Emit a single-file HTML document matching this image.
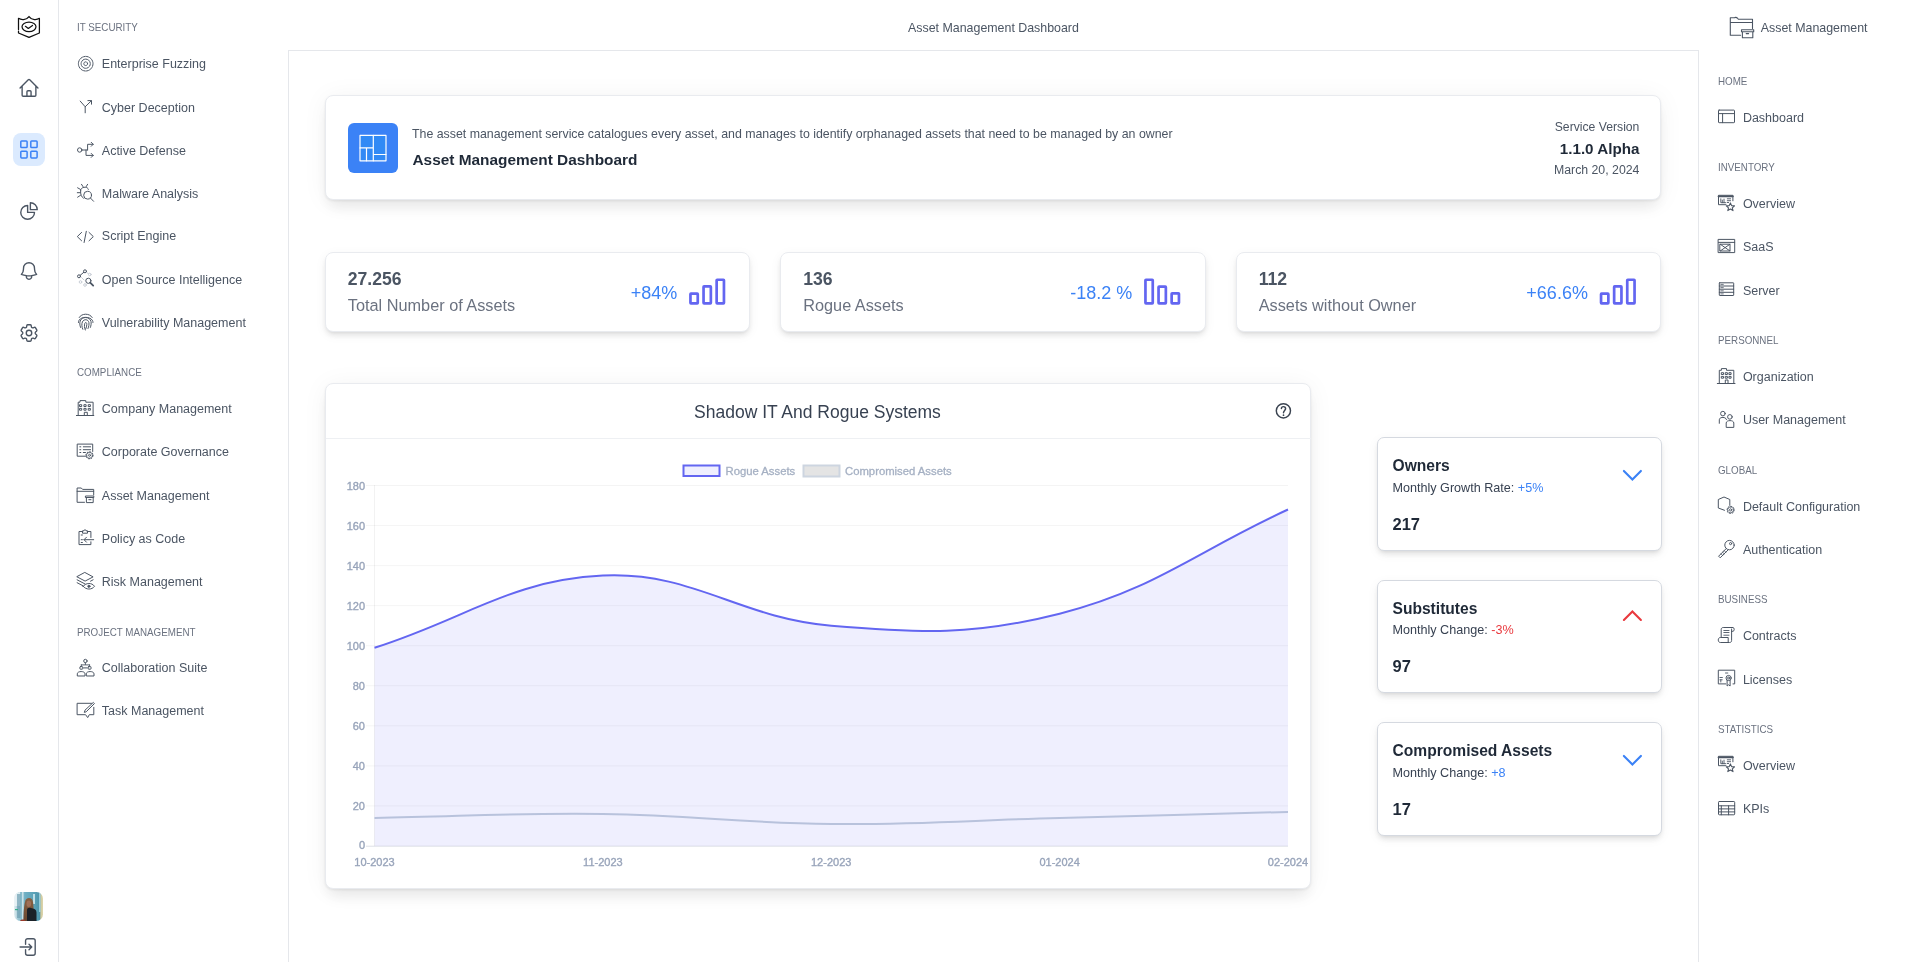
<!DOCTYPE html>
<html><head><meta charset="utf-8"><title>Asset Management Dashboard</title>
<style>
html,body{margin:0;padding:0;background:#fff;}
body{width:1920px;height:962px;overflow:hidden;position:relative;font-family:"Liberation Sans", sans-serif;}
#root{position:absolute;left:0;top:0;width:1920px;height:962px;will-change:transform;}
.t{position:absolute;line-height:1;white-space:nowrap;}
.box{position:absolute;}
.ic{position:absolute;overflow:visible;}
.card{position:absolute;box-sizing:border-box;background:#fff;border:1px solid #e9ebef;border-radius:8px;box-shadow:0 4px 6px -1px rgba(0,0,0,0.09), 0 2px 4px -2px rgba(0,0,0,0.09), 0 3px 12px rgba(0,0,0,0.05);}
.cardx{box-shadow:0 1px 3px rgba(0,0,0,0.08), 0 10px 15px -3px rgba(0,0,0,0.08), 0 2px 26px rgba(0,0,0,0.05);}
.card2{position:absolute;box-sizing:border-box;background:#fff;border:1px solid #d5d9e0;border-radius:7px;box-shadow:0 4px 6px -1px rgba(0,0,0,0.09), 0 2px 4px -2px rgba(0,0,0,0.09), 0 3px 12px rgba(0,0,0,0.05);}
</style></head>
<body>
<div id="root">
<div class="box" style="left:0;top:0;width:58px;height:962px;border-right:1px solid #e5e7eb"></div>
<svg class="ic" style="left:14px;top:12px" width="30" height="30" viewBox="0 0 30 30" fill="none" stroke="#111" stroke-width="1.25" stroke-linecap="round" stroke-linejoin="round"><path d="M4.5,17.6 V6.3 C7,8 12,8.5 15,4.5 C18,8.5 23,8 25.4,6.3 V21 L15,25.4 L4.5,21 V19.2"/><ellipse cx="15" cy="14.8" rx="7" ry="4.8"/><path d="M11.4,14.3 L14.3,16.4 L18.5,13.4"/></svg>
<svg class="ic" style="left:18px;top:77px" width="22" height="22" viewBox="0 0 24 24" fill="none" stroke="#4b5563" stroke-width="1.5" stroke-linecap="round" stroke-linejoin="round"><path d="m2.25 12 8.954-8.955c.44-.439 1.152-.439 1.591 0L21.75 12M4.5 9.75v10.125c0 .621.504 1.125 1.125 1.125H9.75v-4.875c0-.621.504-1.125 1.125-1.125h2.25c.621 0 1.125.504 1.125 1.125V21h4.125c.621 0 1.125-.504 1.125-1.125V9.75M8.25 21h8.25"/></svg>
<div class="box" style="left:13px;top:133px;width:32px;height:33px;border-radius:8px;background:#dbeafe"></div>
<svg class="ic" style="left:13px;top:133px" width="32" height="33" viewBox="0 0 32 33" fill="none" stroke="#3b82f6" stroke-width="1.5" stroke-linecap="round" stroke-linejoin="round"><rect x="7.8" y="7.9" width="6.3" height="6.7" rx="0.9"/><rect x="17.8" y="7.9" width="6.3" height="6.7" rx="0.9"/><rect x="7.8" y="18.2" width="6.3" height="6.7" rx="0.9"/><rect x="17.8" y="18.2" width="6.3" height="6.7" rx="0.9"/></svg>
<svg class="ic" style="left:18px;top:200px" width="22" height="22" viewBox="0 0 24 24" fill="none" stroke="#4b5563" stroke-width="1.5" stroke-linecap="round" stroke-linejoin="round"><path d="M10.5 6a7.5 7.5 0 1 0 7.5 7.5h-7.5V6Z"/><path d="M13.5 10.5H21A7.5 7.5 0 0 0 13.5 3v7.5Z"/></svg>
<svg class="ic" style="left:18px;top:260.3px" width="22" height="22" viewBox="0 0 24 24" fill="none" stroke="#4b5563" stroke-width="1.5" stroke-linecap="round" stroke-linejoin="round"><path d="M14.857 17.082a23.848 23.848 0 0 0 5.454-1.31A8.967 8.967 0 0 1 18 9.75V9A6 6 0 0 0 6 9v.75a8.967 8.967 0 0 1-2.312 6.022c1.733.64 3.56 1.085 5.455 1.31m5.714 0a24.255 24.255 0 0 1-5.714 0m5.714 0a3 3 0 1 1-5.714 0"/></svg>
<svg class="ic" style="left:18px;top:321.5px" width="22" height="22" viewBox="0 0 24 24" fill="none" stroke="#4b5563" stroke-width="1.5" stroke-linecap="round" stroke-linejoin="round"><path d="M9.594 3.94c.09-.542.56-.94 1.11-.94h2.593c.55 0 1.02.398 1.11.94l.213 1.281c.063.374.313.686.645.87.074.04.147.083.22.127.325.196.72.257 1.075.124l1.217-.456a1.125 1.125 0 0 1 1.37.49l1.296 2.247a1.125 1.125 0 0 1-.26 1.431l-1.003.827c-.293.241-.438.613-.43.992a7.723 7.723 0 0 1 0 .255c-.008.378.137.75.43.991l1.004.827c.424.35.534.955.26 1.43l-1.298 2.247a1.125 1.125 0 0 1-1.369.491l-1.217-.456c-.355-.133-.75-.072-1.076.124a6.47 6.47 0 0 1-.22.128c-.331.183-.581.495-.644.869l-.213 1.281c-.09.543-.56.94-1.11.94h-2.594c-.55 0-1.019-.398-1.11-.94l-.213-1.281c-.062-.374-.312-.686-.644-.87a6.52 6.52 0 0 1-.22-.127c-.325-.196-.72-.257-1.076-.124l-1.217.456a1.125 1.125 0 0 1-1.369-.49l-1.297-2.247a1.125 1.125 0 0 1 .26-1.431l1.004-.827c.292-.24.437-.613.43-.991a6.932 6.932 0 0 1 0-.255c.007-.38-.138-.751-.43-.992l-1.004-.827a1.125 1.125 0 0 1-.26-1.43l1.297-2.247a1.125 1.125 0 0 1 1.37-.491l1.216.456c.356.133.751.072 1.076-.124.072-.044.146-.086.22-.128.332-.183.582-.495.644-.869l.214-1.28Z"/><path d="M15 12a3 3 0 1 1-6 0 3 3 0 0 1 6 0Z"/></svg>
<svg class="ic" style="left:14px;top:892px" width="29" height="29" viewBox="0 0 29 29">
<defs><clipPath id="av"><rect x="0" y="0" width="29" height="29" rx="6.5"/></clipPath>
<linearGradient id="avbg" x1="0" y1="0" x2="1" y2="0"><stop offset="0" stop-color="#e6f0f3"/><stop offset="0.15" stop-color="#9cc6d3"/><stop offset="0.4" stop-color="#6eaec2"/><stop offset="0.7" stop-color="#5aa2b8"/><stop offset="0.88" stop-color="#4c93aa"/><stop offset="0.93" stop-color="#cfc9a0"/><stop offset="1" stop-color="#ddd6ac"/></linearGradient>
<linearGradient id="avhair" x1="0" y1="0" x2="0" y2="1"><stop offset="0" stop-color="#8a6244"/><stop offset="1" stop-color="#6a4830"/></linearGradient></defs>
<g clip-path="url(#av)">
<rect width="29" height="29" fill="url(#avbg)"/>
<rect x="0" y="0" width="6" height="14" fill="#eef5f7" opacity="0.8"/>
<rect x="3" y="2" width="3.5" height="24" fill="#6f9fb2" opacity="0.7"/>
<rect x="8" y="0" width="1.6" height="29" fill="#e8f3f6" opacity="0.7"/>
<rect x="19" y="2" width="2" height="10" fill="#d7eef3" opacity="0.8"/>
<rect x="25" y="0" width="1.5" height="20" fill="#a9dbe6" opacity="0.8"/>
<rect x="1" y="17" width="3" height="1.2" fill="#37b08a"/>
<path d="M9.5,29 C9.5,20 10,14 11,10 C11.5,7 13,6 15,6 C17.5,6 18.5,7.5 19,10 C19.6,14 19.8,20 20,29 Z" fill="url(#avhair)"/>
<ellipse cx="14.8" cy="11.8" rx="2.3" ry="3.2" fill="#a07058"/>
<path d="M13,29 V18 C13,16 15,15.5 17,16 L20.5,17 C22,17.8 22.5,19 22.5,21 V29 Z" fill="#1b2128"/>
<path d="M6,29 C7,27.5 9,27.3 11,28 V29 Z" fill="#9a3a2a"/>
</g></svg>
<svg class="ic" style="left:18px;top:936px" width="22" height="22" viewBox="0 0 24 24" fill="none" stroke="#4b5563" stroke-width="1.5" stroke-linecap="round" stroke-linejoin="round"><path d="M8.25 9V5.25A2.25 2.25 0 0 1 10.5 3h6a2.25 2.25 0 0 1 2.25 2.25v13.5A2.25 2.25 0 0 1 16.5 21h-6a2.25 2.25 0 0 1-2.25-2.25V15M12 9l3 3m0 0-3 3m3-3H2.25"/></svg>
<div class="t" style="top:22.25px;font-size:11.4px;color:#6b7280;left:76.90px;transform:scaleX(0.86);transform-origin:0 0;">IT SECURITY</div>
<div class="t" style="top:57.72px;font-size:12.5px;color:#4b5563;left:101.80px;">Enterprise Fuzzing</div>
<div class="t" style="top:101.72px;font-size:12.5px;color:#4b5563;left:101.80px;">Cyber Deception</div>
<div class="t" style="top:144.62px;font-size:12.5px;color:#4b5563;left:101.80px;">Active Defense</div>
<div class="t" style="top:187.72px;font-size:12.5px;color:#4b5563;left:101.80px;">Malware Analysis</div>
<div class="t" style="top:230.32px;font-size:12.5px;color:#4b5563;left:101.80px;">Script Engine</div>
<div class="t" style="top:273.82px;font-size:12.5px;color:#4b5563;left:101.80px;">Open Source Intelligence</div>
<div class="t" style="top:316.52px;font-size:12.5px;color:#4b5563;left:101.80px;">Vulnerability Management</div>
<div class="t" style="top:367.15px;font-size:11.4px;color:#6b7280;left:76.90px;transform:scaleX(0.86);transform-origin:0 0;">COMPLIANCE</div>
<div class="t" style="top:402.72px;font-size:12.5px;color:#4b5563;left:101.80px;">Company Management</div>
<div class="t" style="top:445.82px;font-size:12.5px;color:#4b5563;left:101.80px;">Corporate Governance</div>
<div class="t" style="top:489.72px;font-size:12.5px;color:#4b5563;left:101.80px;">Asset Management</div>
<div class="t" style="top:532.62px;font-size:12.5px;color:#4b5563;left:101.80px;">Policy as Code</div>
<div class="t" style="top:575.82px;font-size:12.5px;color:#4b5563;left:101.80px;">Risk Management</div>
<div class="t" style="top:626.55px;font-size:11.4px;color:#6b7280;left:76.90px;transform:scaleX(0.86);transform-origin:0 0;">PROJECT MANAGEMENT</div>
<div class="t" style="top:661.92px;font-size:12.5px;color:#4b5563;left:101.80px;">Collaboration Suite</div>
<div class="t" style="top:705.42px;font-size:12.5px;color:#4b5563;left:101.80px;">Task Management</div>
<div class="t" style="top:22.10px;font-size:12.4px;color:#4b5563;left:593.50px;width:800px;text-align:center;">Asset Management Dashboard</div>
<div class="t" style="top:22.10px;font-size:12.4px;color:#4b5563;left:1760.80px;">Asset Management</div>
<div class="box" style="left:288px;top:50px;width:1411px;height:1000px;border:1px solid #e5e7eb;box-sizing:border-box"></div>
<div class="t" style="top:76.35px;font-size:11.4px;color:#6b7280;left:1717.50px;transform:scaleX(0.86);transform-origin:0 0;">HOME</div>
<div class="t" style="top:111.82px;font-size:12.5px;color:#4b5563;left:1742.90px;">Dashboard</div>
<div class="t" style="top:161.95px;font-size:11.4px;color:#6b7280;left:1717.50px;transform:scaleX(0.86);transform-origin:0 0;">INVENTORY</div>
<div class="t" style="top:198.02px;font-size:12.5px;color:#4b5563;left:1742.90px;">Overview</div>
<div class="t" style="top:240.82px;font-size:12.5px;color:#4b5563;left:1742.90px;">SaaS</div>
<div class="t" style="top:285.12px;font-size:12.5px;color:#4b5563;left:1742.90px;">Server</div>
<div class="t" style="top:335.15px;font-size:11.4px;color:#6b7280;left:1717.50px;transform:scaleX(0.86);transform-origin:0 0;">PERSONNEL</div>
<div class="t" style="top:370.62px;font-size:12.5px;color:#4b5563;left:1742.90px;">Organization</div>
<div class="t" style="top:413.72px;font-size:12.5px;color:#4b5563;left:1742.90px;">User Management</div>
<div class="t" style="top:464.85px;font-size:11.4px;color:#6b7280;left:1717.50px;transform:scaleX(0.86);transform-origin:0 0;">GLOBAL</div>
<div class="t" style="top:500.82px;font-size:12.5px;color:#4b5563;left:1742.90px;">Default Configuration</div>
<div class="t" style="top:544.12px;font-size:12.5px;color:#4b5563;left:1742.90px;">Authentication</div>
<div class="t" style="top:594.15px;font-size:11.4px;color:#6b7280;left:1717.50px;transform:scaleX(0.86);transform-origin:0 0;">BUSINESS</div>
<div class="t" style="top:629.82px;font-size:12.5px;color:#4b5563;left:1742.90px;">Contracts</div>
<div class="t" style="top:673.92px;font-size:12.5px;color:#4b5563;left:1742.90px;">Licenses</div>
<div class="t" style="top:723.95px;font-size:11.4px;color:#6b7280;left:1717.50px;transform:scaleX(0.86);transform-origin:0 0;">STATISTICS</div>
<div class="t" style="top:760.22px;font-size:12.5px;color:#4b5563;left:1742.90px;">Overview</div>
<div class="t" style="top:802.62px;font-size:12.5px;color:#4b5563;left:1742.90px;">KPIs</div>
<div class="card cardx" style="left:325px;top:94.9px;width:1336.3px;height:104.9px"></div>
<div class="box" style="left:348px;top:123px;width:50px;height:50px;border-radius:6px;background:#3b82f6"></div>
<svg class="ic" style="left:348px;top:123px" width="50" height="50" viewBox="0 0 50 50" fill="none" stroke="#fff" stroke-width="1.2" stroke-linecap="round" stroke-linejoin="round"><rect x="12" y="12.4" width="26" height="25.4" fill="#318af5"/><path d="M25.3,12.4 V37.8 M12,24.9 H25.3 M18.5,24.9 V37.8 M25.3,31.5 H38"/></svg>
<div class="t" style="top:127.63px;font-size:12.37px;color:#4b5563;left:412.00px;">The asset management service catalogues every asset, and manages to identify orphanaged assets that need to be managed by an owner</div>
<div class="t" style="top:151.66px;font-size:15.4px;color:#1f2937;font-weight:700;left:412.50px;">Asset Management Dashboard</div>
<div class="t" style="top:120.67px;font-size:12.2px;color:#4b5563;right:280.60px;">Service Version</div>
<div class="t" style="top:141.13px;font-size:15.2px;color:#1f2937;font-weight:700;right:280.60px;">1.1.0 Alpha</div>
<div class="t" style="top:164.29px;font-size:12.3px;color:#4b5563;right:280.60px;">March 20, 2024</div>
<div class="card" style="left:325px;top:252.2px;width:425.44px;height:80.2px"></div>
<div class="t" style="top:271.40px;font-size:17.6px;color:#4b5563;font-weight:700;left:347.80px;">27.256</div>
<div class="t" style="top:297.30px;font-size:16.3px;color:#6b7280;left:347.80px;">Total Number of Assets</div>
<div class="t" style="top:283.66px;font-size:18px;color:#3b82f6;right:1242.70px;">+84%</div>
<svg class="ic" style="left:0;top:0" width="1920" height="962" viewBox="0 0 1920 962" fill="none" stroke="#6366f1" stroke-width="2.7"><rect x="690.45" y="293.65" width="7.30" height="9.70" rx="0.5"/><rect x="703.55" y="286.45" width="7.30" height="16.90" rx="0.5"/><rect x="716.65" y="279.75" width="7.30" height="23.60" rx="0.5"/></svg>
<div class="card" style="left:780.44px;top:252.2px;width:425.44px;height:80.2px"></div>
<div class="t" style="top:271.40px;font-size:17.6px;color:#4b5563;font-weight:700;left:803.24px;">136</div>
<div class="t" style="top:297.30px;font-size:16.3px;color:#6b7280;left:803.24px;">Rogue Assets</div>
<div class="t" style="top:283.66px;font-size:18px;color:#3b82f6;right:787.70px;">-18.2 %</div>
<svg class="ic" style="left:0;top:0" width="1920" height="962" viewBox="0 0 1920 962" fill="none" stroke="#6366f1" stroke-width="2.7"><rect x="1145.45" y="279.75" width="7.30" height="23.60" rx="0.5"/><rect x="1158.55" y="286.65" width="7.30" height="16.70" rx="0.5"/><rect x="1171.65" y="293.35" width="7.30" height="10.00" rx="0.5"/></svg>
<div class="card" style="left:1235.89px;top:252.2px;width:425.44px;height:80.2px"></div>
<div class="t" style="top:271.40px;font-size:17.6px;color:#4b5563;font-weight:700;left:1258.69px;">112</div>
<div class="t" style="top:297.30px;font-size:16.3px;color:#6b7280;left:1258.69px;">Assets without Owner</div>
<div class="t" style="top:283.66px;font-size:18px;color:#3b82f6;right:332.10px;">+66.6%</div>
<svg class="ic" style="left:0;top:0" width="1920" height="962" viewBox="0 0 1920 962" fill="none" stroke="#6366f1" stroke-width="2.7"><rect x="1601.05" y="293.65" width="7.30" height="9.70" rx="0.5"/><rect x="1614.15" y="286.45" width="7.30" height="16.90" rx="0.5"/><rect x="1627.25" y="279.75" width="7.30" height="23.60" rx="0.5"/></svg>
<div class="card cardx" style="left:325.3px;top:383.2px;width:985.7px;height:505.7px"></div>
<div class="t" style="top:404.19px;font-size:17.5px;color:#374151;left:417.50px;width:800px;text-align:center;">Shadow IT And Rogue Systems</div>
<div class="box" style="left:326px;top:438px;width:985px;height:1px;background:#eef0f3"></div>
<svg class="ic" style="left:0;top:0" width="1920" height="962" viewBox="0 0 1920 962" fill="none" stroke="#3a4350" stroke-width="1.45" stroke-linecap="round"><circle cx="1283.4" cy="410.8" r="7.1"/><path d="M1281.4,408.5 C1281.4,406.1 1285.6,405.9 1285.6,408.6 C1285.6,410.3 1283.5,410.7 1283.5,412.8"/><circle cx="1283.5" cy="415.2" r="0.85" fill="#3a4350" stroke="none"/></svg>
<svg class="ic" style="left:0;top:0" width="1920" height="962" viewBox="0 0 1920 962">
<g><line x1="366" y1="485.50" x2="1288" y2="485.50" stroke="rgba(0,0,0,0.045)" stroke-width="1"/><line x1="366" y1="525.56" x2="1288" y2="525.56" stroke="rgba(0,0,0,0.045)" stroke-width="1"/><line x1="366" y1="565.61" x2="1288" y2="565.61" stroke="rgba(0,0,0,0.045)" stroke-width="1"/><line x1="366" y1="605.67" x2="1288" y2="605.67" stroke="rgba(0,0,0,0.045)" stroke-width="1"/><line x1="366" y1="645.72" x2="1288" y2="645.72" stroke="rgba(0,0,0,0.045)" stroke-width="1"/><line x1="366" y1="685.78" x2="1288" y2="685.78" stroke="rgba(0,0,0,0.045)" stroke-width="1"/><line x1="366" y1="725.83" x2="1288" y2="725.83" stroke="rgba(0,0,0,0.045)" stroke-width="1"/><line x1="366" y1="765.89" x2="1288" y2="765.89" stroke="rgba(0,0,0,0.045)" stroke-width="1"/><line x1="366" y1="805.94" x2="1288" y2="805.94" stroke="rgba(0,0,0,0.045)" stroke-width="1"/><line x1="366" y1="846.00" x2="1288" y2="846.00" stroke="rgba(0,0,0,0.045)" stroke-width="1"/></g>
<line x1="374.5" y1="485" x2="374.5" y2="846.5" stroke="rgba(0,0,0,0.05)"/><line x1="366" y1="846.3" x2="1288" y2="846.3" stroke="#e3e5ec" stroke-width="1"/>
<path d="M374.50,647.73 C465.85,618.88 510.43,580.08 602.88,575.62 C693.13,571.27 738.89,618.00 831.25,625.69 C921.59,633.22 972.52,635.83 1059.62,613.68 C1155.22,589.37 1196.65,551.19 1288.00,509.53 L1288,846.0 L374.5,846.0 Z" fill="rgba(99,102,241,0.1)"/>
<path d="M374.50,817.96 C465.85,816.36 511.56,812.75 602.88,813.96 C694.26,815.16 739.87,823.17 831.25,823.97 C922.57,824.77 968.27,820.36 1059.62,817.96 C1150.97,815.56 1196.65,814.36 1288.00,811.95 L1288,846.0 L374.5,846.0 Z" fill="rgba(203,213,225,0.0)"/>
<path d="M374.50,647.73 C465.85,618.88 510.43,580.08 602.88,575.62 C693.13,571.27 738.89,618.00 831.25,625.69 C921.59,633.22 972.52,635.83 1059.62,613.68 C1155.22,589.37 1196.65,551.19 1288.00,509.53" fill="none" stroke="#6366f1" stroke-width="2"/>
<path d="M374.50,817.96 C465.85,816.36 511.56,812.75 602.88,813.96 C694.26,815.16 739.87,823.17 831.25,823.97 C922.57,824.77 968.27,820.36 1059.62,817.96 C1150.97,815.56 1196.65,814.36 1288.00,811.95" fill="none" stroke="#b8c2dc" stroke-width="2"/>
<g font-family='"Liberation Sans", sans-serif' font-size="11" fill="#98a4ba" stroke="#98a4ba" stroke-width="0.35"><text x="365" y="490.35" text-anchor="end">180</text><text x="365" y="530.24" text-anchor="end">160</text><text x="365" y="570.14" text-anchor="end">140</text><text x="365" y="610.03" text-anchor="end">120</text><text x="365" y="649.93" text-anchor="end">100</text><text x="365" y="689.82" text-anchor="end">80</text><text x="365" y="729.72" text-anchor="end">60</text><text x="365" y="769.61" text-anchor="end">40</text><text x="365" y="809.51" text-anchor="end">20</text><text x="365" y="849.40" text-anchor="end">0</text><text x="374.5" y="865.5" text-anchor="middle">10-2023</text><text x="602.9" y="865.5" text-anchor="middle">11-2023</text><text x="831.2" y="865.5" text-anchor="middle">12-2023</text><text x="1059.6" y="865.5" text-anchor="middle">01-2024</text><text x="1288.0" y="865.5" text-anchor="middle">02-2024</text></g>
<rect x="683.5" y="465.5" width="36" height="10.5" fill="rgba(99,102,241,0.1)" stroke="#6366f1" stroke-width="2"/>
<rect x="803.5" y="465.5" width="36" height="11" fill="#e4e4e4" stroke="#cdd5e0" stroke-width="2"/>
<g font-family='"Liberation Sans", sans-serif' font-size="11.3" fill="#a5b0c3" stroke="#a5b0c3" stroke-width="0.3"><text x="725.5" y="474.5">Rogue Assets</text><text x="845" y="474.5">Compromised Assets</text></g>
</svg>
<svg class="ic" style="left:0;top:0" width="1920" height="962" viewBox="0 0 1920 962" fill="none" stroke="#4b5563" stroke-width="1" stroke-linecap="round" stroke-linejoin="round"><g stroke-dasharray="2.2 0.9"><circle cx="85.7" cy="63.7" r="7.3"/><circle cx="85.7" cy="63.7" r="4.6"/></g><circle cx="85.7" cy="63.7" r="1.9" stroke-dasharray="1.5 0.8"/><path d="M80.2,101.1 L85.2,106.8 V112.8 M85.2,106.8 L91.3,100.8 M87.9,100.6 H91.5 V104.2"/><circle cx="79.7" cy="150" r="2.2"/><path d="M81.9,150 H87.4 M86,150 V155.4 H93.2 M91.2,153.4 L93.2,155.4 L91.2,157.4 M87.6,150 V144.3 H93.2 M91.2,142.3 L93.2,144.3 L91.2,146.3"/><path d="M80.6,190.5 C80.6,186.2 88.4,186.2 88.4,189.5 M81.5,184.3 L83,186.6 M87.6,184.3 L86.2,186.6 M77.6,187.8 L80.6,189.5 M77.3,192.7 H80.3 M77.6,197.2 L80.5,195.3 M80.6,190.5 C80.3,194.5 81.5,197 83.4,198.2"/><circle cx="87.6" cy="195.2" r="3.9"/><path d="M90.4,198 L93.6,201.3"/><path d="M81.6,232.4 L77.3,236.6 L81.6,240.8 M89,232.4 L93.3,236.6 L89,240.8 M86.3,231.3 L84.1,242.5"/><circle cx="85" cy="271.3" r="1.5"/><circle cx="79" cy="276.3" r="1.5"/><path d="M80.2,275.3 L83.8,272.3"/><g stroke="#c9ced6"><circle cx="89.8" cy="274.5" r="1.3"/><circle cx="80.5" cy="282" r="1.3"/><circle cx="85" cy="285" r="1.3"/><path d="M81.5,277.5 L84,280 M86.3,272.3 L88.6,273.8"/></g><circle cx="88.4" cy="280.8" r="2.6"/><path d="M90.2,282.6 L93.2,285.6" stroke-width="1.8"/><path d="M79.2,317.5 C81.5,313 89.8,313 92.2,317.5 M78.4,322.5 C78,315.5 93.4,315.5 93,322.5 M80.6,327.5 C79.6,325 79.6,323 80.2,321 C81.7,316.3 89.8,316.3 91,321.5 C91.4,323.6 91,325.6 90.4,327.4 M82.8,329.3 C81.6,326.5 81.6,323.8 82.4,321.9 C83.8,318.8 88.2,319 88.9,322.5 C89.2,324.5 88.8,326.6 88,328.5 M85.3,330 C84.3,327.6 84.2,325.3 84.8,323.4 C85.6,321.6 87,322.7 86.8,324.6 C86.7,326.2 86.3,327.6 85.8,328.8"/><path d="M76.4,415.5 H93.8 M78.2,415.5 V402.2 H80 V400.6 H85.8 V402.2 H93.1 V415.5 M84.3,415.5 V412.3 H87.3 V415.5"/><rect x="79.89999999999999" y="404.70000000000005" width="1.8" height="1.8"/><rect x="79.89999999999999" y="408.40000000000003" width="1.8" height="1.8"/><rect x="84.3" y="404.70000000000005" width="1.8" height="1.8"/><rect x="84.3" y="408.40000000000003" width="1.8" height="1.8"/><rect x="88.6" y="404.70000000000005" width="1.8" height="1.8"/><rect x="88.6" y="408.40000000000003" width="1.8" height="1.8"/><path d="M85.5,456.2 H77.2 V444.1 H92.7 V451.5 M80.8,446.8 H79.8 M80.8,449.7 H79.8 M80.8,452.5 H79.8 M83.3,446.8 H90.6 M83.3,449.7 H90.6 M83.3,452.5 H85.5"/><path d="M93.10,455.30 L92.83,456.68 L91.99,456.33 L91.41,457.21 L92.05,457.85 L90.88,458.63 L90.53,457.79 L89.50,458.00 L89.50,458.90 L88.12,458.63 L88.47,457.79 L87.59,457.21 L86.95,457.85 L86.17,456.68 L87.01,456.33 L86.80,455.30 L85.90,455.30 L86.17,453.92 L87.01,454.27 L87.59,453.39 L86.95,452.75 L88.12,451.97 L88.47,452.81 L89.50,452.60 L89.50,451.70 L90.88,451.97 L90.53,452.81 L91.41,453.39 L92.05,452.75 L92.83,453.92 L91.99,454.27 L92.20,455.30 Z" stroke-width="0.9"/><circle cx="89.5" cy="455.3" r="1" stroke-width="0.9"/><path d="M84.5,502.3 H77.1 V488 H81.3 L82.6,489.4 H93.7 V495 M77.1,491.3 H93.7"/><path d="M85.8,497.5 H93.8 V496 H85.8 Z M86.4,497.5 V502.6 H93.2 V497.5 M88.8,499.7 H91"/><path d="M82.5,531.5 H79 V544.6 H90.9 V541.8 M90.9,537.5 V531.5 H87.5 M82.5,532.8 V530.8 H84 C84,529.3 86,529.3 86,530.8 H87.5 V532.8 Z M81.2,535 H82.4 M81.2,539.7 H82.4 M81.2,542.5 H82.4 M84,539.7 H93.7 M86.5,537.2 L84,539.7 L86.5,542.2"/><path d="M85.1,572.6 L93.1,576.9 L85.1,581.1 L77.1,576.9 Z M77.1,579.8 L85.1,584 M93.1,579.8 L90.5,581.2 M77.1,582.7 L83,585.8"/><path d="M83.2,586.3 C85.8,582.5 92,582.5 94.5,586.3 C92,590 85.8,590 83.2,586.3 Z"/><circle cx="88.9" cy="586.3" r="1.1" fill="#4b5563"/><circle cx="85.4" cy="661" r="1.7"/><path d="M85.4,662.7 V664.5 M81.3,664.9 V666.3 M89.6,664.9 V666.3 M81.3,664.9 H89.6" stroke-width="0.9"/><rect x="79.9" y="666.6" width="2.8" height="2.6" rx="0.5"/><rect x="88.2" y="666.6" width="2.8" height="2.6" rx="0.5"/><path d="M83.6,667.9 H87.2"/><path d="M77.3,675.6 V673.8 C77.3,670.8 85,670.8 85,673.8 V675.6 Z M86.3,675.6 V673.8 C86.3,670.8 94,670.8 94,673.8 V675.6 Z"/><path d="M91.5,703.3 H77.1 V714.7 H85.6 L87.7,717.6 L89.3,714.7 H93.8 V707.3"/><path d="M93.6,702.7 L94.4,703.6 L86.2,711.8 L84.3,712.4 L84.9,710.5 Z"/><rect x="1718.5" y="110.1" width="16" height="12.6" rx="0.6"/><path d="M1718.5,113.6 H1734.5 M1722.6,113.6 V122.7"/><path d="M1726,204.70000000000002 H1718.5 V195.3 H1732.9 V200.8" /><path d="M1718.5,196.3 H1732.9" stroke-width="1.8"/><path d="M1720.8,198.8 V202.70000000000002 H1725.8 M1722.3,202.70000000000002 V200.10000000000002 M1724,202.70000000000002 V199.10000000000002 M1727.3,198.8 H1730.6 M1727.3,200.70000000000002 H1730.6 M1727.3,202.5 H1728.6" stroke-width="0.9"/><path d="M1730.4,202.9 L1731.6,205.60000000000002 L1734.5,205.9 L1732.3,207.8 L1733,210.60000000000002 L1730.4,209.10000000000002 L1727.8,210.60000000000002 L1728.5,207.8 L1726.3,205.9 L1729.2,205.60000000000002 Z" stroke-width="1.1"/><rect x="1718.5" y="239.4" width="16.2" height="13.2"/><path d="M1718.5,242.4 H1734.7"/><rect x="1720.2" y="244.2" width="9.8" height="6.8"/><path d="M1720.2,244.2 L1730,251 M1730,244.2 L1720.2,251"/><rect x="1719.3" y="282.8" width="14.4" height="12.7" rx="0.4"/><path d="M1719.3,286 H1733.7 M1719.3,289.2 H1733.7 M1719.3,292.3 H1733.7"/><path d="M1720.8,284.4 H1723.3 M1720.8,287.6 H1723.3 M1720.8,290.8 H1723.3 M1720.8,293.9 H1723.3" stroke-width="0.8"/><path d="M1717.3,383.5 H1735 M1719.3,383.5 V370.3 H1721.4 V368.6 H1726.5 V370.3 H1733.8 V383.5 M1725.3,383.5 V380 H1728 V383.5"/><rect x="1721.6999999999998" y="372.70000000000005" width="1.8" height="1.8"/><rect x="1721.6999999999998" y="376.40000000000003" width="1.8" height="1.8"/><rect x="1725.6" y="372.70000000000005" width="1.8" height="1.8"/><rect x="1725.6" y="376.40000000000003" width="1.8" height="1.8"/><rect x="1729.3" y="372.70000000000005" width="1.8" height="1.8"/><rect x="1729.3" y="376.40000000000003" width="1.8" height="1.8"/><circle cx="1722.9" cy="413.6" r="2.3"/><path d="M1719.3,423.3 V419.8 C1719.3,416.6 1726.3,416.6 1726.5,419.5"/><circle cx="1729.9" cy="416.9" r="2.3"/><path d="M1726.2,427 V423 C1726.2,419.8 1733.8,419.8 1733.8,423 V427 Z"/><path d="M1724.5,510.3 L1718.3,508 V499.5 L1724,497 L1729.8,499.5 V505.4"/><path d="M1734.20,509.90 L1733.93,511.28 L1733.09,510.93 L1732.51,511.81 L1733.15,512.45 L1731.98,513.23 L1731.63,512.39 L1730.60,512.60 L1730.60,513.50 L1729.22,513.23 L1729.57,512.39 L1728.69,511.81 L1728.05,512.45 L1727.27,511.28 L1728.11,510.93 L1727.90,509.90 L1727.00,509.90 L1727.27,508.52 L1728.11,508.87 L1728.69,507.99 L1728.05,507.35 L1729.22,506.57 L1729.57,507.41 L1730.60,507.20 L1730.60,506.30 L1731.98,506.57 L1731.63,507.41 L1732.51,507.99 L1733.15,507.35 L1733.93,508.52 L1733.09,508.87 L1733.30,509.90 Z" stroke-width="0.9"/><circle cx="1730.6" cy="509.9" r="1.1" stroke-width="0.9"/><circle cx="1729.5" cy="545.1" r="4.7"/><circle cx="1730.6" cy="543.6" r="1.1"/><path d="M1726.3,548.5 L1718.6,556.2 L1720.2,557.8 L1727.9,550.1"/><path d="M1721,553.8 L1722.6,555.4 M1722.6,552.2 L1724.2,553.8 M1724.2,550.6 L1725.8,552.2" stroke-width="0.8"/><path d="M1721.2,637 V629.5 C1721.2,628.3 1722,627.5 1723.2,627.5 H1733 C1734.6,627.5 1734.6,631.3 1733,631.3 H1731.6 M1731.6,629 V640.5 C1731.6,641.8 1730.8,642.5 1729.6,642.5 H1720.3 C1717.6,642.5 1717.6,637.5 1720.3,637.5 H1728.2 V642.3"/><path d="M1723.8,630.5 H1729 M1723.8,632.5 H1729 M1723.8,635.2 H1729" stroke-width="0.9"/><path d="M1725.7,683.9 H1718.3 V670.2 H1734.7 V683.9 H1733"/><path d="M1725.5,673 H1727.8 M1719.9,677.5 H1722.4 M1719.9,679.8 H1722.2 M1720.8,679.8 V682" stroke-width="0.9"/><circle cx="1728.6" cy="678" r="2.6"/><circle cx="1728.6" cy="678" r="1" /><path d="M1727.1,680.2 V686 L1728.6,684.8 L1730.1,686 V680.2"/><path d="M1726,765.6999999999999 H1718.5 V756.3 H1732.9 V761.8" /><path d="M1718.5,757.3 H1732.9" stroke-width="1.8"/><path d="M1720.8,759.8 V763.6999999999999 H1725.8 M1722.3,763.6999999999999 V761.0999999999999 M1724,763.6999999999999 V760.0999999999999 M1727.3,759.8 H1730.6 M1727.3,761.6999999999999 H1730.6 M1727.3,763.5 H1728.6" stroke-width="0.9"/><path d="M1730.4,763.9 L1731.6,766.5999999999999 L1734.5,766.9 L1732.3,768.8 L1733,771.5999999999999 L1730.4,770.0999999999999 L1727.8,771.5999999999999 L1728.5,768.8 L1726.3,766.9 L1729.2,766.5999999999999 Z" stroke-width="1.1"/><rect x="1718.5" y="801.5" width="16.2" height="13.3" rx="0.8"/><path d="M1718.5,805.8 H1734.7 M1718.5,808.9 H1734.7 M1718.5,811.9 H1734.7 M1721.3,805.8 V814.8 M1728.6,805.8 V814.8"/><path d="M1740.6,35.3 H1730.3 V17.8 H1734.5 C1735,17.2 1736.5,17.2 1737.3,18 L1738.5,19.3 H1752.5 V28.5 M1730.3,22.5 H1752.5" stroke-width="1.1"/><path d="M1741.5,29.8 H1753.7 V31.7 H1741.5 Z M1742.4,31.7 V37.8 H1752.8 V31.7 M1746.2,33.6 H1748.6" stroke-width="1.1"/></svg>
<div class="card2" style="left:1377.2px;top:437.2px;width:284.5px;height:113.6px"></div>
<div class="t" style="top:457.89px;font-size:15.6px;color:#1f2937;font-weight:700;left:1392.50px;">Owners</div>
<div class="t" style="top:481.73px;font-size:12.6px;color:#374151;left:1392.50px;">Monthly Growth Rate: <span style="color:#3b82f6">+5%</span></div>
<div class="t" style="top:515.93px;font-size:16.5px;color:#1f2937;font-weight:700;left:1392.50px;">217</div>
<div class="card2" style="left:1377.2px;top:580.0px;width:284.5px;height:113.0px"></div>
<div class="t" style="top:600.99px;font-size:15.6px;color:#1f2937;font-weight:700;left:1392.50px;">Substitutes</div>
<div class="t" style="top:623.73px;font-size:12.6px;color:#374151;left:1392.50px;">Monthly Change: <span style="color:#e9393e">-3%</span></div>
<div class="t" style="top:657.93px;font-size:16.5px;color:#1f2937;font-weight:700;left:1392.50px;">97</div>
<div class="card2" style="left:1377.2px;top:722.2px;width:284.5px;height:113.4px"></div>
<div class="t" style="top:742.59px;font-size:15.6px;color:#1f2937;font-weight:700;left:1392.50px;">Compromised Assets</div>
<div class="t" style="top:766.53px;font-size:12.6px;color:#374151;left:1392.50px;">Monthly Change: <span style="color:#3b82f6">+8</span></div>
<div class="t" style="top:800.93px;font-size:16.5px;color:#1f2937;font-weight:700;left:1392.50px;">17</div>
<svg class="ic" style="left:0;top:0" width="1920" height="962" viewBox="0 0 1920 962" fill="none" stroke-width="2.1" stroke-linecap="round" stroke-linejoin="miter"><path d="M1623.9,470.90 L1632.4,479.50 L1640.9,470.90" stroke="#3b82f6"/><path d="M1623.9,620.00 L1632.4,611.50 L1640.9,620.00" stroke="#e9393e"/><path d="M1623.9,755.90 L1632.4,764.50 L1640.9,755.90" stroke="#3b82f6"/></svg>

</div>
</body></html>
